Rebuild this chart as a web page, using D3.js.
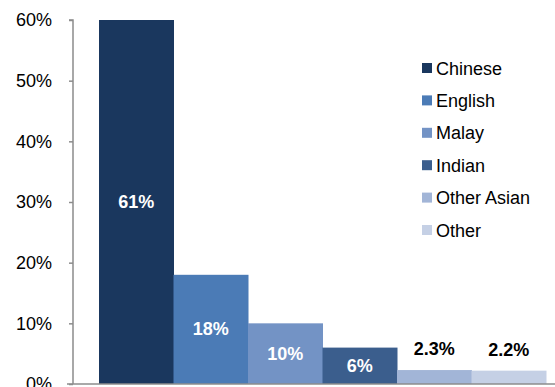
<!DOCTYPE html>
<html>
<head>
<meta charset="utf-8">
<script src="https://cdn.jsdelivr.net/npm/d3@7"></script>
<style>
  html, body { margin: 0; padding: 0; background: #fff; }
  svg { display: block; font-family: "Liberation Sans", Arial, sans-serif; }
</style>
</head>
<body>
<svg id="chart" width="555" height="387"></svg>
<script>
// Population share by ethnic group
const groups = ["Chinese", "English", "Malay", "Indian", "Other Asian", "Other"];
const shares = [61, 18, 10, 6, 2.3, 2.2];
const labels = ["61%", "18%", "10%", "6%", "2.3%", "2.2%"];
const colors = ["#1a375e", "#4b7bb6", "#7393c5", "#3b5e8d", "#a2b5d7", "#c5d0e5"];
const yTicks = [0, 10, 20, 30, 40, 50, 60];

const svg = d3.select("#chart");
const axisX = 73, baseY = 384, topY = 20;

const x = d3.scaleBand().domain(groups).range([99, 546]).paddingInner(0).paddingOuter(0);
const y = d3.scaleLinear().domain([0, 60]).range([baseY, topY]).clamp(true);

// Bars
svg.append("g").selectAll("rect")
  .data(groups)
  .join("rect")
  .attr("x", d => x(d))
  .attr("width", x.bandwidth() + 0.5)
  .attr("y", (d, i) => y(shares[i]))
  .attr("height", (d, i) => baseY - y(shares[i]))
  .attr("fill", (d, i) => colors[i]);

// Value labels: inside bars when tall enough, above otherwise
svg.append("g").selectAll("text")
  .data(groups)
  .join("text")
  .attr("x", d => x(d) + x.bandwidth() / 2)
  .attr("y", (d, i) => {
    const top = y(shares[i]);
    return shares[i] >= 5 ? (top + baseY) / 2 + 6 : top - 15;
  })
  .attr("text-anchor", "middle")
  .attr("font-size", 18)
  .attr("font-weight", "bold")
  .attr("fill", (d, i) => shares[i] >= 5 ? "#ffffff" : "#000000")
  .text((d, i) => labels[i]);

// Y axis
const yAxis = d3.axisLeft(y)
  .tickValues(yTicks)
  .tickSize(4)
  .tickPadding(17)
  .tickFormat(d => d + "%");
const gy = svg.append("g").attr("transform", `translate(${axisX},0)`).call(yAxis);
gy.select(".domain").attr("stroke", "#8c8c8c").attr("stroke-width", 1.5)
  .attr("d", `M-4,${topY}H0V${baseY}`);
gy.selectAll(".tick line").attr("stroke", "#8c8c8c").attr("stroke-width", 1.5);
gy.selectAll(".tick text").attr("font-size", 18).attr("fill", "#000")
  .attr("font-family", "'Liberation Sans', Arial, sans-serif");

// X axis baseline
svg.append("line")
  .attr("x1", 67).attr("x2", 555)
  .attr("y1", baseY).attr("y2", baseY)
  .attr("stroke", "#8c8c8c").attr("stroke-width", 1.5);

// Legend
const legend = svg.append("g").attr("transform", "translate(422,68)");
const row = legend.selectAll("g")
  .data(groups)
  .join("g")
  .attr("transform", (d, i) => `translate(0,${i * 32.4})`);
row.append("rect")
  .attr("x", 0).attr("y", -5).attr("width", 10).attr("height", 10)
  .attr("fill", (d, i) => colors[i]);
row.append("text")
  .attr("x", 14).attr("y", 6.5)
  .attr("font-size", 18)
  .attr("fill", "#000")
  .text(d => d);
</script>
</body>
</html>
